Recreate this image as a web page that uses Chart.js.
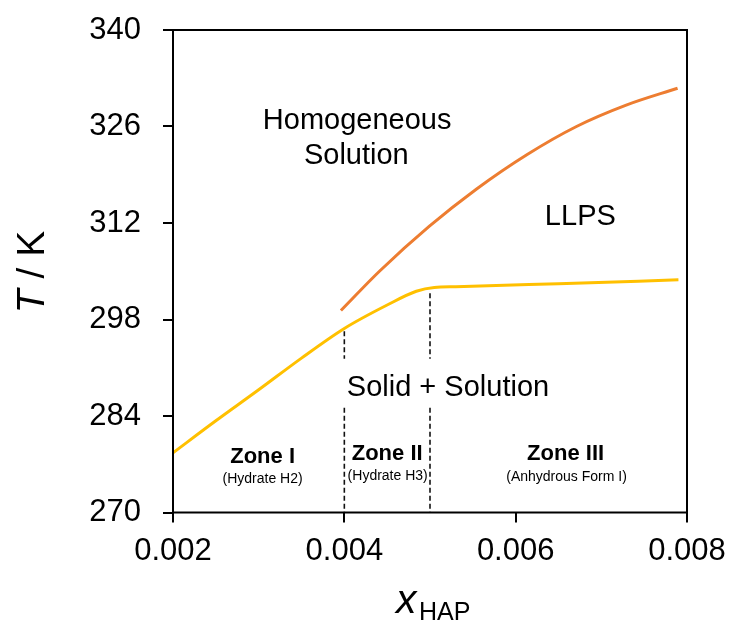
<!DOCTYPE html>
<html>
<head>
<meta charset="utf-8">
<script src="https://cdn.jsdelivr.net/npm/chart.js@4.4.1/dist/chart.umd.min.js"></script>
<style>
    html, body { margin: 0; padding: 0; background: #fff; }
    #caixa { width: 736px; height: 624px; }
</style>
</head>
<body>
<div id="caixa"><canvas id="grafico" width="736" height="624"></canvas></div>
<script>
// limite de separação líquido-líquido (LLPS)
const xLlps = [0.00396, 0.00441, 0.00499, 0.00554, 0.00613, 0.00671, 0.00729, 0.00789];
const tLlps = [299.3, 305.0, 311.5, 316.9, 321.9, 326.0, 329.1, 331.55];

// curva de solubilidade
const xSolub = [0.002, 0.0025, 0.003, 0.0035, 0.004, 0.0045, 0.00484, 0.00505, 0.0053, 0.0065, 0.0079];
const tSolub = [278.65, 283.3, 287.8, 292.4, 296.7, 300.1, 302.1, 302.65, 302.75, 303.2, 303.75];

// fronteiras entre as zonas (linhas tracejadas, interrompidas no texto)
const xFronteiras = [0.004, 0.005];
const tFronteiraTopo = [296.3, 301.8];
const tCorteSup = 292.3;
const tCorteInf = 285.2;

// eixos
const xTicks = [0.002, 0.004, 0.006, 0.008];
const xTickLabels = ["0.002", "0.004", "0.006", "0.008"];
const yTicks = [270, 284, 298, 312, 326, 340];
const yTickLabels = ["270", "284", "298", "312", "326", "340"];

// textos das regiões
const rotulosFase = ["Homogeneous", "Solution", "LLPS", "Solid + Solution"];
const rotulosZona = ["Zone I", "Zone II", "Zone III"];
const subtitulosZona = ["(Hydrate H2)", "(Hydrate H3)", "(Anhydrous Form I)"];

const FONTE = "'Liberation Sans', Arial, sans-serif";

function pontos(xs, ys) {
    return xs.map(function (x, i) { return { x: x, y: ys[i] }; });
}

let tracejados = [];
xFronteiras.forEach(function (x, i) {
    tracejados.push({
        data: [{ x: x, y: tFronteiraTopo[i] }, { x: x, y: tCorteSup }],
        borderColor: "#111",
        borderWidth: 1.6,
        borderDash: [5, 3],
        pointRadius: 0,
        showLine: true
    });
    tracejados.push({
        data: [{ x: x, y: tCorteInf }, { x: x, y: yTicks[0] }],
        borderColor: "#111",
        borderWidth: 1.6,
        borderDash: [5, 3],
        pointRadius: 0,
        showLine: true
    });
});

const textos = [
    { txt: rotulosFase[0], x: 0.00415, y: 325.6, font: "29px " + FONTE },
    { txt: rotulosFase[1], x: 0.00414, y: 320.6, font: "29px " + FONTE },
    { txt: rotulosFase[2], x: 0.006755, y: 311.7, font: "29px " + FONTE },
    { txt: rotulosFase[3], x: 0.00521, y: 286.95, font: "29px " + FONTE },
    { txt: rotulosZona[0], x: 0.003046, y: 277.2, font: "bold 22px " + FONTE },
    { txt: rotulosZona[1], x: 0.0045, y: 277.55, font: "bold 22px " + FONTE },
    { txt: rotulosZona[2], x: 0.006583, y: 277.55, font: "bold 22px " + FONTE },
    { txt: subtitulosZona[0], x: 0.003046, y: 274.3, font: "14px " + FONTE },
    { txt: subtitulosZona[1], x: 0.004506, y: 274.65, font: "14px " + FONTE },
    { txt: subtitulosZona[2], x: 0.006594, y: 274.5, font: "14px " + FONTE }
];

const pluginTextos = {
    id: "textos",
    afterDraw: function (chart) {
        const ctx = chart.ctx;
        const sx = chart.scales.x;
        const sy = chart.scales.y;
        const area = chart.chartArea;

        ctx.save();
        // moldura completa
        ctx.strokeStyle = "#000";
        ctx.lineWidth = 2;
        ctx.strokeRect(area.left, area.top, area.right - area.left, area.bottom - area.top);

        ctx.fillStyle = "#000";
        ctx.textAlign = "center";
        ctx.textBaseline = "alphabetic";
        textos.forEach(function (t) {
            ctx.font = t.font;
            ctx.fillText(t.txt, sx.getPixelForValue(t.x), sy.getPixelForValue(t.y));
        });

        // título do eixo y: T / K
        ctx.save();
        ctx.translate(44, 272);
        ctx.rotate(-Math.PI / 2);
        ctx.textAlign = "left";
        ctx.font = "italic 39px " + FONTE;
        let wT = ctx.measureText("T").width;
        ctx.font = "39px " + FONTE;
        let wResto = ctx.measureText(" / K").width;
        let inicio = -(wT + wResto) / 2;
        ctx.font = "italic 39px " + FONTE;
        ctx.fillText("T", inicio, 0);
        ctx.font = "39px " + FONTE;
        ctx.fillText(" / K", inicio + wT, 0);
        ctx.restore();

        // título do eixo x: x_HAP
        ctx.textAlign = "left";
        ctx.font = "italic 41px " + FONTE;
        ctx.fillText("x", 396, 613);
        ctx.font = "25px " + FONTE;
        ctx.fillText("HAP", 419, 620);
        ctx.restore();
    }
};

function fixarTicks(valores, rotulos) {
    return function (scale) {
        scale.ticks = valores.map(function (v, i) { return { value: v, label: rotulos[i] }; });
    };
}

let grafico = new Chart(document.getElementById("grafico"), {
    type: "scatter",
    data: {
        datasets: [{
            label: "LLPS",
            data: pontos(xLlps, tLlps),
            borderColor: "#ED7D31",
            borderWidth: 3,
            pointRadius: 0,
            showLine: true,
            cubicInterpolationMode: "monotone"
        }, {
            label: "Solubilidade",
            data: pontos(xSolub, tSolub),
            borderColor: "#FFC000",
            borderWidth: 3,
            pointRadius: 0,
            showLine: true,
            cubicInterpolationMode: "monotone"
        }].concat(tracejados)
    },
    options: {
        responsive: false,
        animation: false,
        layout: { padding: { top: 30, right: 49, left: 0, bottom: 0 } },
        plugins: {
            legend: { display: false },
            tooltip: { enabled: false }
        },
        scales: {
            x: {
                type: "linear",
                min: 0.002,
                max: 0.008,
                afterBuildTicks: fixarTicks(xTicks, xTickLabels),
                afterFit: function (scale) {
                    scale.height = 111.5;
                    scale.paddingLeft = 0;
                    scale.paddingRight = 0;
                },
                grid: { drawOnChartArea: false, color: "#000", lineWidth: 2, tickLength: 10 },
                border: { display: false },
                ticks: {
                    padding: 10,
                    color: "#000",
                    maxRotation: 0,
                    font: { family: FONTE, size: 31 },
                    callback: function (v, i) { return xTickLabels[i]; }
                }
            },
            y: {
                type: "linear",
                min: 270,
                max: 340,
                afterBuildTicks: fixarTicks(yTicks, yTickLabels),
                afterFit: function (scale) {
                    scale.width = 173;
                    scale.paddingTop = 0;
                    scale.paddingBottom = 0;
                },
                grid: { drawOnChartArea: false, color: "#000", lineWidth: 2, tickLength: 10 },
                border: { display: false },
                ticks: {
                    padding: 22,
                    color: "#000",
                    font: { family: FONTE, size: 31 },
                    callback: function (v, i) { return yTickLabels[i]; }
                }
            }
        }
    },
    plugins: [pluginTextos]
});
</script>
</body>
</html>
